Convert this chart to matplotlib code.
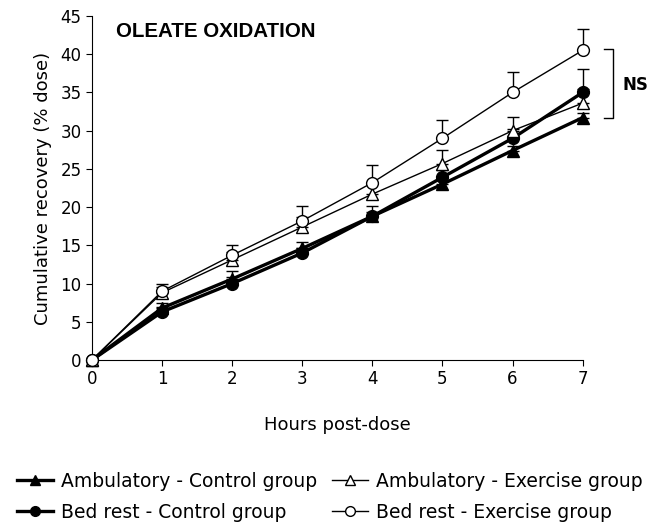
import matplotlib
matplotlib.use("Agg")
import matplotlib.pyplot as plt
from matplotlib.lines import Line2D
import numpy as np

hours = [0, 1, 2, 3, 4, 5, 6, 7]

# cumulative recovery (% dose), mean and upper SE
amb_ctrl = [0, 6.8, 10.6, 14.6, 18.8, 23.0, 27.4, 31.7]
amb_ctrl_err = [0, 0.7, 1.1, 0.8, 0.6, 0.6, 0.6, 0.6]
bed_ctrl = [0, 6.3, 10.0, 14.0, 18.8, 23.9, 29.0, 35.0]
bed_ctrl_err = [0, 0.6, 0.8, 0.7, 1.3, 1.0, 1.2, 3.0]
amb_ex = [0, 8.8, 13.1, 17.4, 21.7, 25.7, 30.0, 33.6]
amb_ex_err = [0, 0.8, 1.0, 1.3, 1.4, 1.8, 1.8, 1.8]
bed_ex = [0, 9.0, 13.7, 18.2, 23.2, 29.0, 35.0, 40.5]
bed_ex_err = [0, 1.0, 1.4, 1.9, 2.3, 2.4, 2.7, 2.8]

labels = ["Ambulatory - Control group", "Ambulatory - Exercise group",
          "Bed rest - Control group", "Bed rest - Exercise group"]

fig = plt.figure(figsize=(6.69, 5.31), dpi=100)
ax = fig.add_axes([0.1375, 0.322, 0.7335, 0.648])

def draw(y, err, marker, filled, lw, z):
    fc = "black" if filled else "white"
    ax.errorbar(hours, y, yerr=[np.zeros(len(err)), err], color="black",
                marker=marker, markersize=8.5, markerfacecolor=fc,
                markeredgecolor="black", markeredgewidth=1.0, lw=lw,
                elinewidth=1.0, capsize=4, capthick=1.0,
                zorder=z, clip_on=False)
    return Line2D([], [], color="black", marker=marker, markersize=7,
                  markerfacecolor=fc, markeredgecolor="black", lw=lw)

h1 = draw(amb_ctrl, amb_ctrl_err, "^", True, 2.4, 3)
h3 = draw(bed_ctrl, bed_ctrl_err, "o", True, 2.4, 4)
h2 = draw(amb_ex, amb_ex_err, "^", False, 1.0, 5)
h4 = draw(bed_ex, bed_ex_err, "o", False, 1.0, 6)

ax.set_xlim(0, 7)
ax.set_ylim(0, 45)
ax.set_xticks(hours)
ax.set_yticks(np.arange(0, 46, 5))
for s in ["top", "right"]:
    ax.spines[s].set_visible(False)
ax.tick_params(direction="out", length=4, labelsize=12)
ax.set_xlabel("Hours post-dose", fontsize=13, labelpad=20)
ax.set_ylabel("Cumulative recovery (% dose)", fontsize=13, labelpad=6)

ax.text(0.049, 0.956, "OLEATE OXIDATION", transform=ax.transAxes,
        fontsize=14.8, fontweight="bold", family="Liberation Sans", va="center")

# NS bracket
ax.plot([7.31, 7.43, 7.43, 7.31], [40.7, 40.7, 31.7, 31.7], color="black",
        lw=1.0, clip_on=False)
ax.text(7.57, 36, "NS", fontsize=12, fontweight="bold", va="center",
        family="DejaVu Sans")

fig.legend([h1, h3, h2, h4], [labels[0], labels[2], labels[1], labels[3]],
           loc="lower left", ncol=2, frameon=False, fontsize=13.5,
           bbox_to_anchor=(0.0, -0.014), handlelength=1.9, handletextpad=0.45,
           columnspacing=0.8, labelspacing=0.62)

fig.savefig("out.png", dpi=100)
